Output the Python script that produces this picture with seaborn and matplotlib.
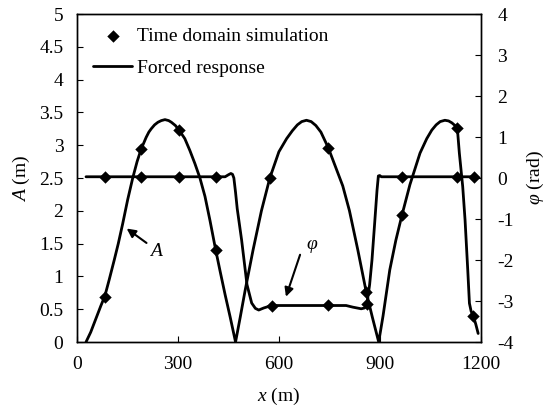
import matplotlib
matplotlib.use("Agg")
import matplotlib.pyplot as plt
import seaborn as sns
from matplotlib.ticker import FuncFormatter

# ---- Forced response: amplitude A (m) ----
a_x = [26, 40, 55, 70, 82, 95, 110, 122, 135, 150, 165, 178, 190, 205, 213, 220,
       230, 240, 250, 261, 272, 280, 292, 303, 320, 335, 350, 365, 380, 395,
       412, 425, 440, 455, 471,
       485, 500, 523, 548, 573, 600, 623, 640, 655, 668, 682, 696, 710, 725,
       747, 770, 790, 810, 835, 860, 878, 897,
       910, 930, 948, 966, 990, 1020, 1040, 1055, 1068, 1080, 1094, 1105, 1115,
       1124, 1131, 1137, 1147, 1154, 1162, 1167, 1172, 1179, 1186, 1193]
a_val = [0.0, 0.15, 0.35, 0.55, 0.70, 0.95, 1.25, 1.50, 1.80, 2.17, 2.50, 2.75, 2.94,
         3.12, 3.20, 3.25, 3.31, 3.35, 3.375, 3.39, 3.375, 3.35, 3.30, 3.23, 3.10,
         2.92, 2.72, 2.50, 2.22, 1.85, 1.40, 1.08, 0.72, 0.38, 0.0,
         0.38, 0.80, 1.40, 2.00, 2.50, 2.90, 3.10, 3.22, 3.31, 3.36, 3.38, 3.36,
         3.30, 3.20, 2.96, 2.65, 2.38, 2.00, 1.40, 0.76, 0.38, 0.0,
         0.40, 1.10, 1.55, 1.93, 2.40, 2.88, 3.10, 3.23, 3.31, 3.36, 3.38, 3.37,
         3.34, 3.30, 3.26, 2.88, 2.37, 1.86, 1.10, 0.59, 0.47, 0.39, 0.27, 0.13]

# ---- Forced response: phase phi (rad) ----
phi_x = [26, 440, 450, 457, 462, 466, 471, 476, 489, 505, 519, 530, 540, 555, 578,
         800, 820, 845, 855, 862, 870, 877, 885, 892, 896, 900, 905, 1185]
phi_val = [0.03, 0.03, 0.08, 0.11, 0.09, 0.0, -0.35, -0.75, -1.51, -2.6, -3.05,
           -3.18, -3.22, -3.17, -3.11, -3.11, -3.15, -3.19, -3.17, -3.07, -2.6,
           -2.0, -1.1, -0.3, 0.05, 0.06, 0.03, 0.03]

# ---- Time domain simulation ----
sim_a_x = [82, 190, 303, 412, 573, 747, 860, 966, 1131, 1179]
sim_a = [0.69, 2.94, 3.23, 1.40, 2.50, 2.96, 0.76, 1.93, 3.26, 0.39]
sim_phi_x = [82, 190, 303, 412, 578, 747, 862, 966, 1131, 1181]
sim_phi = [0.03, 0.03, 0.03, 0.03, -3.11, -3.10, -3.07, 0.03, 0.03, 0.03]

x_ticks = [0, 300, 600, 900, 1200]
a_ticks = [0, 0.5, 1, 1.5, 2, 2.5, 3, 3.5, 4, 4.5, 5]
phi_ticks = [-4, -3, -2, -1, 0, 1, 2, 3, 4]

sns.set_style("ticks")
plt.rcParams["font.family"] = ["Liberation Serif", "DejaVu Serif"]
plt.rcParams["mathtext.fontset"] = "custom"
plt.rcParams["mathtext.rm"] = "Liberation Serif"
plt.rcParams["mathtext.it"] = "Liberation Serif:italic"
plt.rcParams["axes.unicode_minus"] = False
for k in ["axes.edgecolor", "xtick.color", "ytick.color", "text.color", "axes.labelcolor"]:
    plt.rcParams[k] = "black"

fs = 14
lw = 2.0

fig = plt.figure(figsize=(5.52, 4.07), dpi=100)
ax = fig.add_axes([0.140, 0.1597, 0.7305, 0.8059])
ax2 = ax.twinx()

sns.lineplot(x=a_x, y=a_val, ax=ax, color="black", lw=lw, estimator=None,
             sort=False, legend=False)
sns.scatterplot(x=sim_a_x, y=sim_a, ax=ax, marker="D", s=40, color="black",
                linewidth=0, legend=False, zorder=3)

sns.lineplot(x=phi_x, y=phi_val, ax=ax2, color="black", lw=lw, estimator=None,
             sort=False, legend=False)
sns.scatterplot(x=sim_phi_x, y=sim_phi, ax=ax2, marker="D", s=40, color="black",
                linewidth=0, legend=False, zorder=3)

ax.set_xlim(0, 1200)
ax.set_ylim(0, 5)
ax2.set_ylim(-4, 4)
ax.set_xticks(x_ticks)
ax.set_yticks(a_ticks)
ax2.set_yticks(phi_ticks)
fmt = FuncFormatter(lambda v, p: f"{v:g}")
ax.yaxis.set_major_formatter(fmt)
ax2.yaxis.set_major_formatter(fmt)
ax.xaxis.set_major_formatter(fmt)

ax.tick_params(axis="x", direction="in", length=4, width=0.8, labelsize=fs, pad=10, top=False)
ax.tick_params(axis="y", direction="in", length=4, width=0.8, labelsize=fs, pad=10, right=False)
ax2.tick_params(axis="y", direction="in", length=4, width=0.8, labelsize=fs, pad=12)

for a in (ax, ax2):
    for s in a.spines.values():
        s.set_linewidth(1.0)
        s.set_color("black")

ax.set_xlabel(r"$x$ (m)", fontsize=fs, labelpad=9)
ax.set_ylabel(r"$A$ (m)", fontsize=fs, labelpad=5)
ax2.set_ylabel(r"$\varphi$ (rad)", fontsize=fs, labelpad=8)

# annotations
arrow = dict(arrowstyle="-|>", color="black", lw=1.5, mutation_scale=13,
             shrinkA=0, shrinkB=0)
ax.annotate("", xy=(147, 1.73), xytext=(206, 1.51), arrowprops=arrow)
ax.text(236, 1.38, r"$A$", ha="center", va="center", fontsize=fs)
ax.annotate("", xy=(621, 0.69), xytext=(663, 1.33), arrowprops=arrow)
ax.text(699, 1.45, r"$\varphi$", ha="center", va="center", fontsize=fs)

h_sc = ax2.collections[0]
h_ln = ax2.lines[0]
ax2.legend([h_sc, h_ln], ["Time domain simulation", "Forced response"],
           loc="upper left", bbox_to_anchor=(0.016, 0.99), frameon=False,
           fontsize=fs, handlelength=2.0, handletextpad=0.25,
           labelspacing=0.75, borderaxespad=0.2, borderpad=0.3, scatterpoints=1)

fig.savefig("out.png", dpi=100)
